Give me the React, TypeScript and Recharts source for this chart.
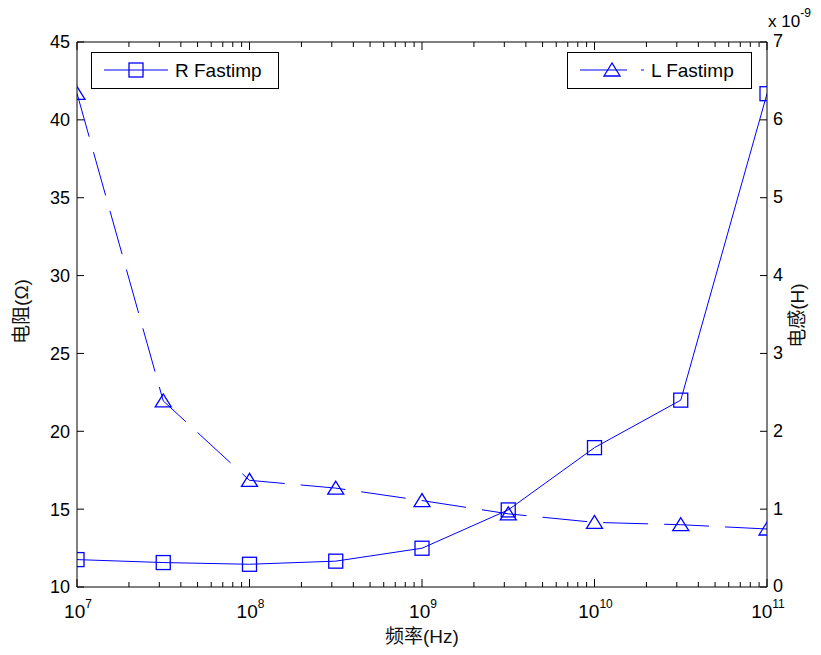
import React from 'react';
import { LineChart, Line, XAxis, YAxis, Legend, Label } from 'recharts';

// ---- data ----
const frequencies = [1e7, 3.162e7, 1e8, 3.162e8, 1e9, 3.162e9, 1e10, 3.162e10, 1e11];
const resistanceOhm = [11.76, 11.57, 11.46, 11.66, 12.49, 14.95, 18.95, 22.0, 41.68];
const inductanceE9 = [6.34, 2.39, 1.37, 1.27, 1.11, 0.94, 0.83, 0.8, 0.745]; // x 1e-9 H

const xMajorTicks = [1e7, 1e8, 1e9, 1e10, 1e11];
const xMinorMultipliers = [2, 3, 4, 5, 6, 7, 8, 9];
const leftTicks = [10, 15, 20, 25, 30, 35, 40, 45];
const rightTicks = [0, 1, 2, 3, 4, 5, 6, 7];

const seriesKeys = ['R', 'L'];
const seriesNames = ['R Fastimp', 'L Fastimp'];
const xLabel = '频率(Hz)';
const leftLabel = '电阻(Ω)';
const rightLabel = '电感(H)';

const data = frequencies.map((f, i) => ({ f, R: resistanceOhm[i], L: inductanceE9[i] }));
const xMinorTicks: number[] = [];
xMajorTicks.slice(0, -1).forEach((m) => xMinorMultipliers.forEach((k) => xMinorTicks.push(m * k)));
const xAllTicks = [...xMajorTicks, ...xMinorTicks].sort((a, b) => a - b);
const isMajor = (v: number) => xMajorTicks.some((m) => Math.abs(m - v) / m < 1e-6);

const FONT = "'Liberation Sans', Arial, Helvetica, 'Noto Sans CJK SC', sans-serif";
const BLUE = '#0000ff';

const BottomTick = (props: any) => {
  const { x, y, payload } = props;
  const v = payload.value;
  const major = isMajor(v);
  const exp = Math.round(Math.log10(v));
  return (
    <g>
      <line x1={x} x2={x} y1={y} y2={y - (major ? 8 : 5)} stroke="#000" strokeWidth={1} />
      {major && (
        <text x={x + 1} y={y + 31} textAnchor="middle" fontSize={19} fontFamily={FONT} fill="#000">
          <tspan>10</tspan>
          <tspan dy={-10} fontSize={12}>{exp}</tspan>
        </text>
      )}
    </g>
  );
};

const TopTick = (props: any) => {
  const { x, y, payload } = props;
  const major = isMajor(payload.value);
  return <line x1={x} x2={x} y1={y} y2={y + (major ? 8 : 5)} stroke="#000" strokeWidth={1} />;
};

const LeftTick = (props: any) => {
  const { x, y, payload } = props;
  return (
    <g>
      <line x1={x} x2={x + 7} y1={y} y2={y} stroke="#000" strokeWidth={1} />
      <text x={x - 7} y={y} dy="0.36em" textAnchor="end" fontSize={18} fontFamily={FONT} fill="#000">
        {payload.value}
      </text>
    </g>
  );
};

const RightTick = (props: any) => {
  const { x, y, payload } = props;
  return (
    <g>
      <line x1={x} x2={x - 7} y1={y} y2={y} stroke="#000" strokeWidth={1} />
      <text x={x + 6} y={y - 1} dy="0.36em" textAnchor="start" fontSize={18} fontFamily={FONT} fill="#000">
        {payload.value}
      </text>
    </g>
  );
};

const SquareDot = (props: any) => {
  const { cx, cy, index } = props;
  if (cx == null || cy == null) return <g key={index} />;
  return <rect key={index} x={cx - 7} y={cy - 7} width={14} height={14} fill="none" stroke={BLUE} strokeWidth={1.3} />;
};

const TriangleDot = (props: any) => {
  const { cx, cy, index } = props;
  if (cx == null || cy == null) return <g key={index} />;
  return (
    <polygon
      key={index}
      points={`${cx},${cy - 7} ${cx - 8},${cy + 6} ${cx + 8},${cy + 6}`}
      fill="none"
      stroke={BLUE}
      strokeWidth={1.3}
    />
  );
};

const legendBoxes = [
  { left: 91, top: 52, width: 188, marker: 'square', dash: undefined as string | undefined },
  { left: 567, top: 52, width: 185, marker: 'triangle', dash: '47 14' },
];

const LegendContent = (props: any) => {
  const payload: any[] = props.payload || [];
  return (
    <div style={{ position: 'relative', width: 821, height: 655, pointerEvents: 'none' }}>
      {legendBoxes.map((b, i) => {
        const entry = payload.find((p) => p && p.dataKey === seriesKeys[i]);
        const name = entry ? entry.value : seriesNames[i];
        return (
          <div
            key={i}
            style={{
              position: 'absolute',
              left: b.left,
              top: b.top,
              width: b.width,
              height: 37,
              boxSizing: 'border-box',
              border: '1px solid #000',
              background: '#fff',
            }}
          >
            <svg width={b.width - 2} height={35} style={{ position: 'absolute', left: 0, top: 0 }}>
              <line x1={12} x2={76} y1={17} y2={17} stroke={BLUE} strokeWidth={1} strokeDasharray={b.dash} />
              {b.marker === 'square' ? (
                <rect x={44 - 7} y={17 - 7} width={14} height={14} fill="none" stroke={BLUE} strokeWidth={1.3} />
              ) : (
                <polygon points={`44,${17 - 7} 36,${17 + 6} 52,${17 + 6}`} fill="none" stroke={BLUE} strokeWidth={1.3} />
              )}
              <text x={83} y={17} dy="0.36em" fontSize={19} fontFamily={FONT} fill="#000">
                {name}
              </text>
            </svg>
          </div>
        );
      })}
    </div>
  );
};

export default function App() {
  return (
    <div style={{ position: 'absolute', left: 0, top: 0, background: '#fff' }}>
      <LineChart width={821} height={655} data={data} margin={{ top: 42, right: 0, bottom: 0, left: 0 }}>
        <XAxis
          xAxisId="x"
          dataKey="f"
          type="number"
          scale="log"
          domain={[1e7, 1e11]}
          allowDataOverflow
          ticks={xAllTicks}
          interval={0}
          tickLine={false}
          tickSize={0}
          tickMargin={0}
          tick={<BottomTick />}
          axisLine={{ stroke: '#000', strokeWidth: 1 }}
          height={68}
        >
          <Label
            content={(p: any) => {
              const vb = p.viewBox || { x: 77, y: 587, width: 690 };
              return (
                <text x={vb.x + vb.width / 2} y={vb.y + 49} dy="0.36em" textAnchor="middle" fontSize={19} fontFamily={FONT} fill="#111">
                  {xLabel}
                </text>
              );
            }}
          />
        </XAxis>
        <XAxis
          xAxisId="xt"
          orientation="top"
          mirror
          dataKey="f"
          type="number"
          scale="log"
          domain={[1e7, 1e11]}
          allowDataOverflow
          ticks={xAllTicks}
          interval={0}
          tickLine={false}
          tickSize={0}
          tickMargin={0}
          tick={<TopTick />}
          axisLine={{ stroke: '#000', strokeWidth: 1 }}
          height={10}
        />
        <YAxis
          yAxisId="L"
          orientation="left"
          domain={[10, 45]}
          allowDataOverflow
          ticks={leftTicks}
          interval={0}
          width={77}
          tickLine={false}
          tickSize={0}
          tickMargin={0}
          tick={<LeftTick />}
          axisLine={{ stroke: '#000', strokeWidth: 1 }}
        >
          <Label
            content={(p: any) => {
              const vb = p.viewBox || { x: 0, y: 42, width: 77, height: 545 };
              const cx = vb.x + 21;
              const cy = vb.y + vb.height / 2 - 3;
              return (
                <text x={cx} y={cy} dy="0.36em" textAnchor="middle" fontSize={19} fontFamily={FONT} fill="#111" transform={`rotate(-90, ${cx}, ${cy})`}>
                  {leftLabel}
                </text>
              );
            }}
          />
        </YAxis>
        <YAxis
          yAxisId="R"
          orientation="right"
          domain={[0, 7]}
          allowDataOverflow
          ticks={rightTicks}
          interval={0}
          width={54}
          tickLine={false}
          tickSize={0}
          tickMargin={0}
          tick={<RightTick />}
          axisLine={{ stroke: '#000', strokeWidth: 1 }}
        >
          <Label
            content={(p: any) => {
              const vb = p.viewBox || { x: 767, y: 42, width: 54, height: 545 };
              const cx = vb.x + 30;
              const cy = vb.y + vb.height / 2 + 1;
              return (
                <g>
                  <text x={cx} y={cy} dy="0.36em" textAnchor="middle" fontSize={19} fontFamily={FONT} fill="#111" transform={`rotate(-90, ${cx}, ${cy})`}>
                    {rightLabel}
                  </text>
                  <text x={vb.x + 1} y={vb.y - 15} fontSize={17} fontFamily={FONT} fill="#000">
                    <tspan>x 10</tspan>
                    <tspan dy={-10} fontSize={12}>-9</tspan>
                  </text>
                </g>
              );
            }}
          />
        </YAxis>
        <Legend
          layout="vertical"
          align="center"
          verticalAlign="middle"
          wrapperStyle={{ position: 'absolute', left: 0, top: 0, width: 821, height: 655, pointerEvents: 'none' }}
          content={<LegendContent />}
        />
        <Line
          xAxisId="x"
          yAxisId="L"
          dataKey="R"
          name={seriesNames[0]}
          stroke={BLUE}
          strokeWidth={1}
          type="linear"
          dot={<SquareDot />}
          activeDot={false}
          isAnimationActive={false}
        />
        <Line
          xAxisId="x"
          yAxisId="R"
          dataKey="L"
          name={seriesNames[1]}
          stroke={BLUE}
          strokeWidth={1}
          strokeDasharray="45 16"
          type="linear"
          dot={<TriangleDot />}
          activeDot={false}
          isAnimationActive={false}
        />
      </LineChart>
    </div>
  );
}
